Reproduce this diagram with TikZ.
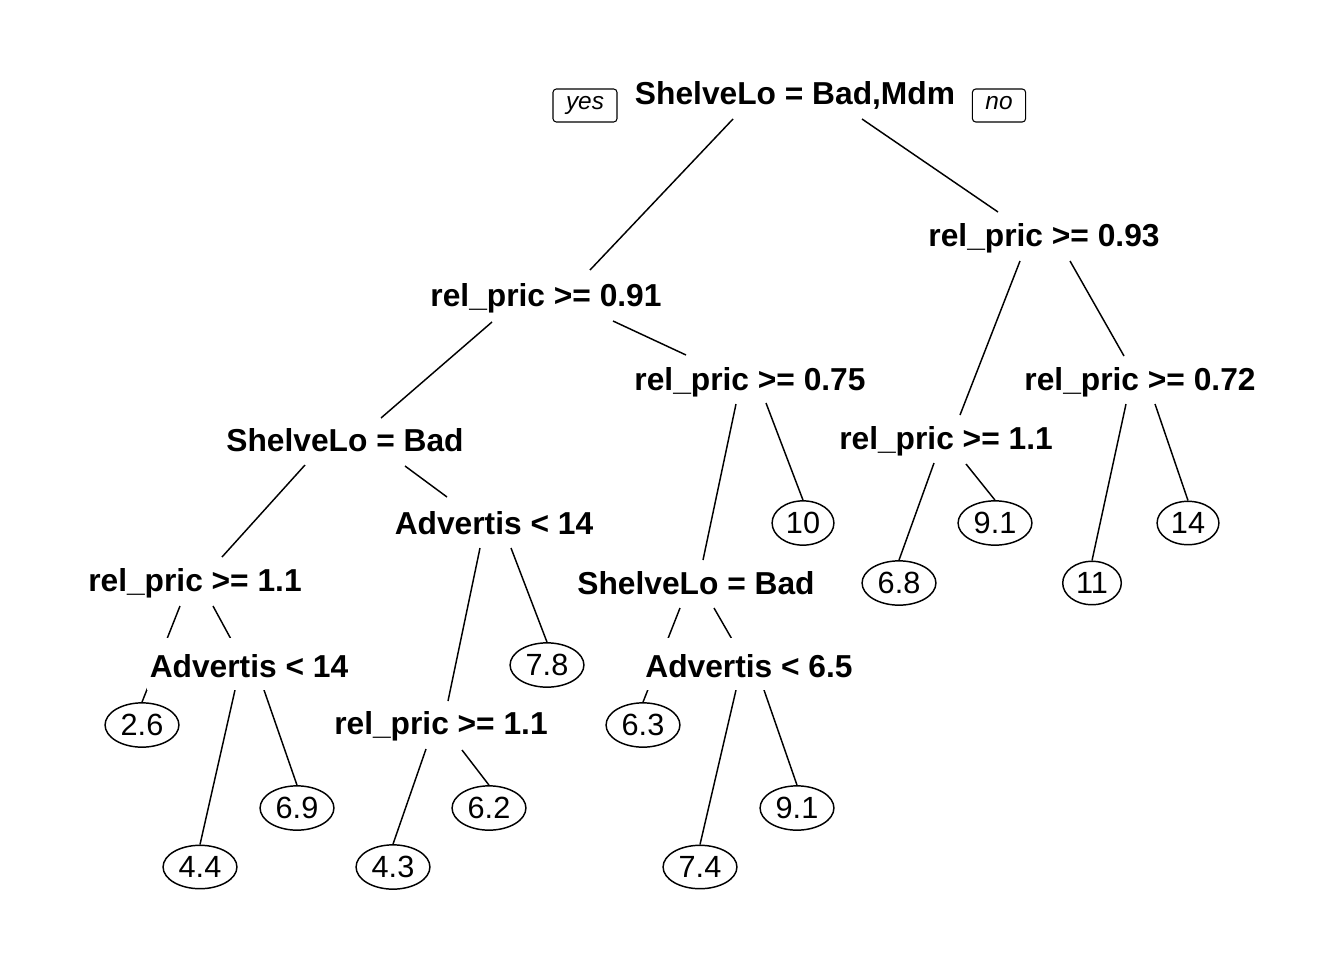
\documentclass[tikz,border=0pt]{standalone}
\usepackage{fontspec}
\setmainfont{Liberation Sans}
\usetikzlibrary{shapes.geometric, backgrounds}

\tikzset{
  split/.style={font=\bfseries\fontsize{23.8}{28}\selectfont, anchor=base, inner sep=2pt},
  cover/.style={fill=white, text height=19pt, text depth=0pt, inner ysep=10pt},
  leaf/.style={draw, ellipse, line width=1.1pt, font=\fontsize{23}{28}\selectfont, inner sep=3.6pt},
  answer/.style={draw, rounded corners=2.5pt, line width=0.8pt, font=\itshape\fontsize{18.3}{22}\selectfont,
    text height=9.5pt, text depth=3.85pt, inner xsep=9.75pt, inner ysep=5.7pt},
  branch/.style={line width=1.1pt}
}

\begin{document}
\begin{tikzpicture}[x=0.75pt, y=-0.75pt]
    \useasboundingbox (0,0) rectangle (1344,960);

    % splits
    \node[split] (n1) at (795,104) {ShelveLo = Bad,Mdm};
    \node[answer] (yes) at (585,105.5) {yes};
    \node[answer] (no) at (999,105.5) {no};
    \node[split] (n2) at (546,306) {rel\_pric >= 0.91};
    \node[split] (n3) at (1044,246) {rel\_pric >= 0.93};
    \node[split] (n4) at (345,451) {ShelveLo = Bad};
    \node[split] (n5) at (750,390) {rel\_pric >= 0.75};
    \node[split] (n6) at (946,449) {rel\_pric >= 1.1};
    \node[split] (n7) at (1140,390) {rel\_pric >= 0.72};
    \node[split] (n8) at (195,591) {rel\_pric >= 1.1};
    \node[split] (n9) at (494,534) {Advertis < 14};
    \node[split] (n10) at (696,594) {ShelveLo = Bad};
    \node[split, cover] (n17) at (249,677) {Advertis < 14};
    \node[split] (n18) at (441,734) {rel\_pric >= 1.1};
    \node[split, cover] (n21) at (749,677) {Advertis < 6.5};

    % leaves
    \node[leaf] (n16) at (142,725) {2.6};
    \node[leaf] (n34) at (200,867) {4.4};
    \node[leaf] (n35) at (297,808) {6.9};
    \node[leaf] (n36) at (393,867) {4.3};
    \node[leaf] (n37) at (489,808) {6.2};
    \node[leaf] (n19) at (547,665) {7.8};
    \node[leaf] (n20) at (643,725) {6.3};
    \node[leaf] (n42) at (700,867) {7.4};
    \node[leaf] (n43) at (797,808) {9.1};
    \node[leaf] (n11) at (803,523) {10};
    \node[leaf] (n12) at (899,583) {6.8};
    \node[leaf] (n13) at (995,523) {9.1};
    \node[leaf] (n14) at (1092,583) {11};
    \node[leaf] (n15) at (1188,523) {14};

    \begin{scope}[on background layer]
    \path[branch]
    ([shift={(-62,15)}]n1.base) edge ([shift={(44,-36)}]n2.base)
        ([shift={(67,15)}]n1.base) edge ([shift={(-46,-34)}]n3.base)
    ([shift={(-54,16)}]n2.base) edge ([shift={(36,-33)}]n4.base)
        ([shift={(67,15)}]n2.base) edge ([shift={(-64,-35)}]n5.base)
    ([shift={(-40,14)}]n4.base) edge ([shift={(27,-34)}]n8.base)
        ([shift={(60,15)}]n4.base) edge ([shift={(-47,-37)}]n9.base)
    ([shift={(-15,15)}]n8.base) edge (n16.north)
        ([shift={(18,15)}]n8.base) edge ([shift={(-17,-36)}]n17.base)
    ([shift={(-14,13)}]n17.base) edge (n34.north)
        ([shift={(15,13)}]n17.base) edge (n35.north)
    ([shift={(-14,14)}]n9.base) edge ([shift={(7,-33)}]n18.base)
        ([shift={(17,14)}]n9.base) edge (n19.north)
    ([shift={(-15,15)}]n18.base) edge (n36.north)
        ([shift={(21,16)}]n18.base) edge (n37.north)
    ([shift={(-14,14)}]n5.base) edge ([shift={(7,-34)}]n10.base)
        ([shift={(16,13)}]n5.base) edge (n11.north)
    ([shift={(-16,14)}]n10.base) edge (n20.north)
        ([shift={(18,14)}]n10.base) edge ([shift={(-16,-36)}]n21.base)
    ([shift={(-13,13)}]n21.base) edge (n42.north)
        ([shift={(15,13)}]n21.base) edge (n43.north)
    ([shift={(-24,15)}]n3.base) edge ([shift={(14,-34)}]n6.base)
        ([shift={(26,15)}]n3.base) edge ([shift={(-16,-34)}]n7.base)
    ([shift={(-12,14)}]n6.base) edge (n12.north)
        ([shift={(20,15)}]n6.base) edge (n13.north)
    ([shift={(-14,14)}]n7.base) edge (n14.north)
        ([shift={(15,14)}]n7.base) edge (n15.north);
    \end{scope}
\end{tikzpicture}
\end{document}
